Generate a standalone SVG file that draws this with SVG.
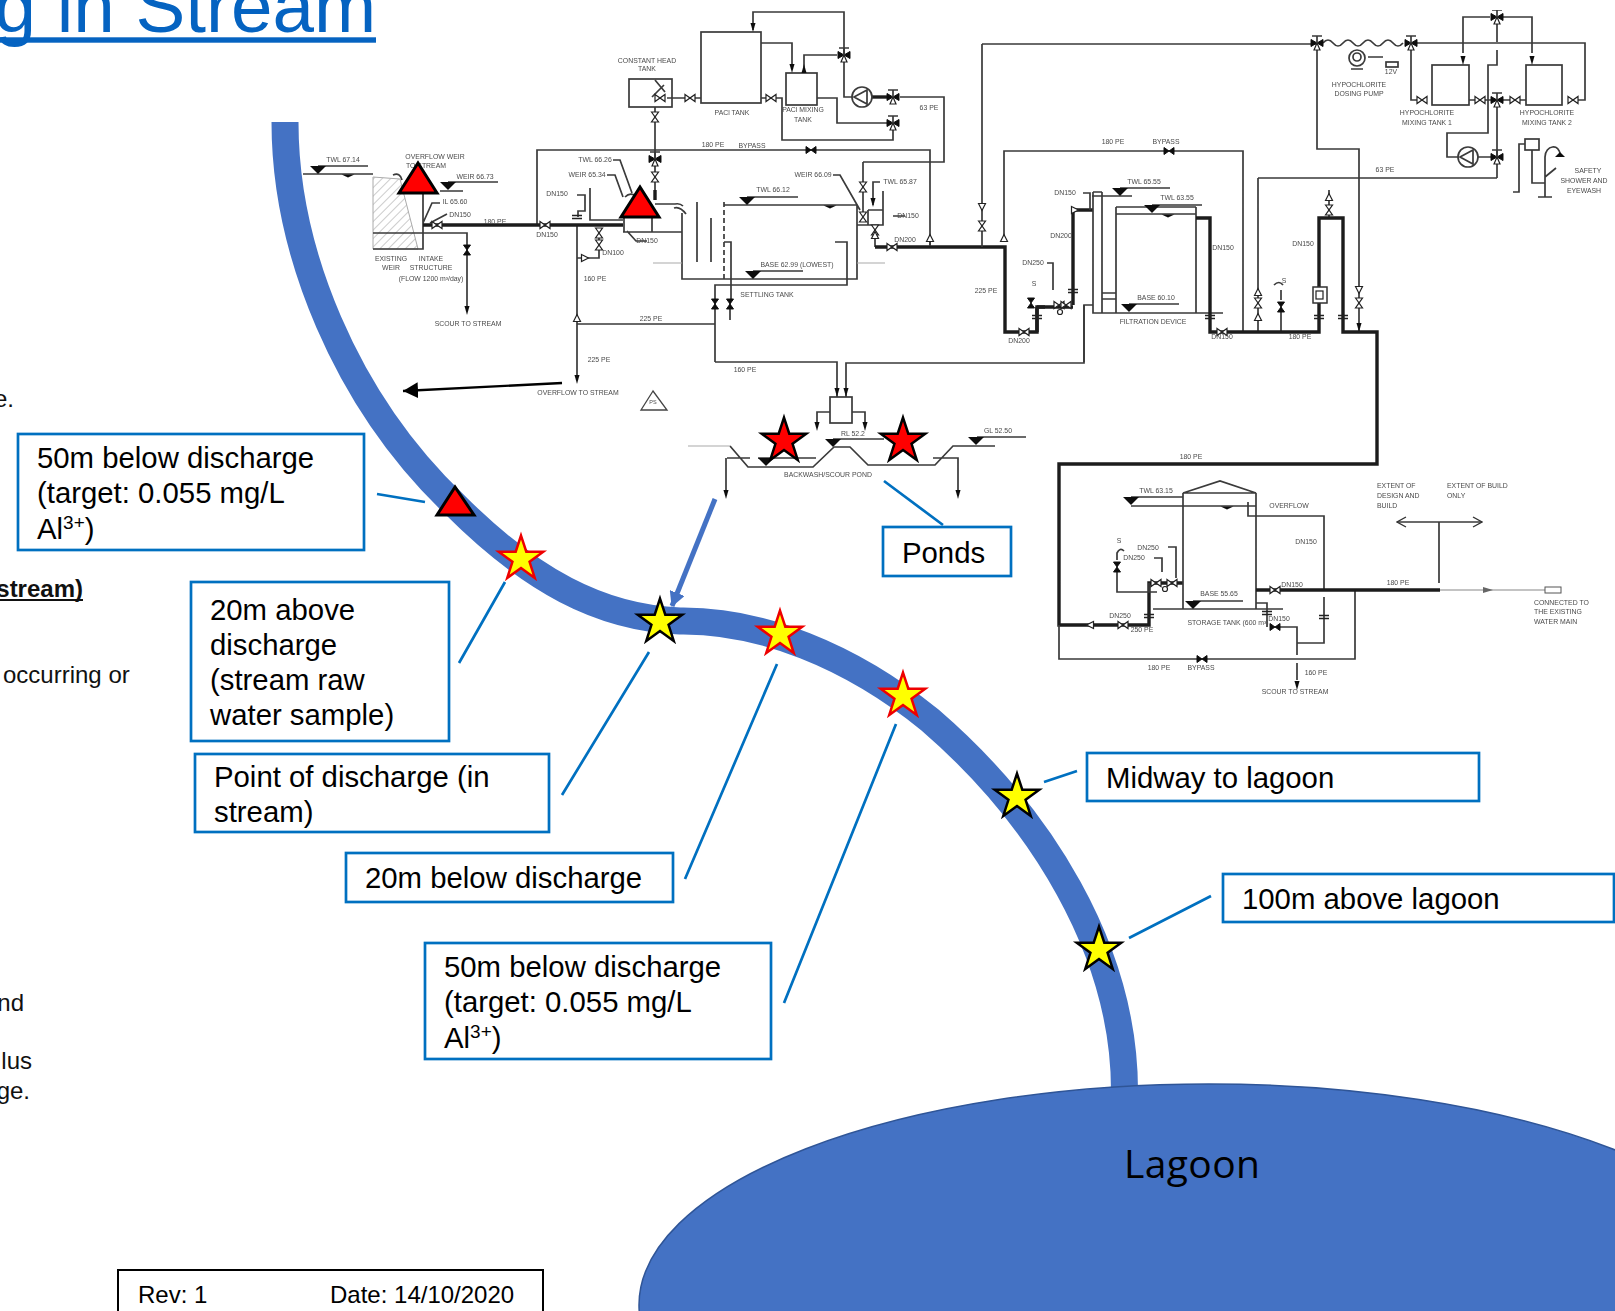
<svg xmlns="http://www.w3.org/2000/svg" width="1615" height="1311" viewBox="0 0 1615 1311">
<style>
.l{fill:none;stroke:#3a3a3a;stroke-width:1.7}
.t{fill:none;stroke:#1c1c1c;stroke-width:3.4}
.f{fill:none;stroke:#aaa;stroke-width:1.2}
.s{fill:#111;stroke:none}
.p text{font-family:"Liberation Sans",Arial,sans-serif;font-size:6.9px;fill:#4a4a4a;text-anchor:middle}
.p text.a{text-anchor:start}
.v{fill:#fff;stroke:#222;stroke-width:1.2}
.vs{fill:#111;stroke:#111;stroke-width:1}
.b{fill:#fff;stroke:#0070C0;stroke-width:2.7}
.bt{font-family:"Liberation Sans",Arial,sans-serif;font-size:29.33px;fill:#000}
.c{fill:none;stroke:#0070C0;stroke-width:2.7}
.side{font-family:"Liberation Sans",Arial,sans-serif;font-size:24px;fill:#111}
.tri{fill:#f00;stroke:#000;stroke-width:3;stroke-linejoin:miter}
.sy{fill:#ff0;stroke:#e00;stroke-width:2.5}
.sk{fill:#ff0;stroke:#000;stroke-width:2.5}
.sr{fill:#f00;stroke:#000;stroke-width:2.5}
</style>
<defs>
<filter id="soft" x="0" y="0" width="100%" height="100%"><feGaussianBlur stdDeviation="0.45"/></filter>
<pattern id="hatch" width="6" height="6" patternUnits="userSpaceOnUse" patternTransform="rotate(-45)"><line x1="0" y1="0" x2="6" y2="0" stroke="#999" stroke-width="1"/></pattern>
<polygon id="star" points="0,-23.4 5.29,-7.28 22.26,-7.23 8.56,2.78 13.75,18.93 0,9 -13.75,18.93 -8.56,2.78 -22.26,-7.23 -5.29,-7.28"/>
<polygon id="bh" class="v" points="-5,-3.5 5,3.5 5,-3.5 -5,3.5"/>
<polygon id="bv" class="v" points="-3.5,-5 3.5,5 -3.5,5 3.5,-5"/>
<polygon id="bhs" class="vs" points="-5,-3.5 5,3.5 5,-3.5 -5,3.5"/>
<polygon id="bvs" class="vs" points="-3.5,-5 3.5,5 -3.5,5 3.5,-5"/>
<polygon id="ck" class="v" points="-3.5,3.5 0,-3.5 3.5,3.5"/>
<polygon id="ckd" class="v" points="-3.5,-3.5 0,3.5 3.5,-3.5"/>
<g id="tw"><polygon class="vs" points="-6,-3.5 6,3.5 6,-3.5 -6,3.5"/><polygon class="v" points="-3,7 0,0 3,7"/><path d="M-5,-7H5M0,-7V0" class="l"/></g>
<polygon id="ah" class="s" points="-2.5,-9 2.5,-9 0,0"/>
<polygon id="at" class="s" points="-8,-4 8,-4 0,4"/>
<polygon id="ats" class="s" points="-6.5,-1.5 6.5,-1.5 0,1.5"/>
<path id="fl" d="M-5,-1.5H5M-5,1.5H5" fill="none" stroke="#222" stroke-width="1.4"/>
<marker id="open" viewBox="0 0 12 12" refX="11" refY="6" markerWidth="12" markerHeight="12" markerUnits="userSpaceOnUse" orient="auto-start-reverse"><path d="M2,1L11,6L2,11" fill="none" stroke="#333" stroke-width="1.4"/></marker>
<marker id="blackhead" viewBox="0 0 16 16" refX="15" refY="8" markerWidth="16" markerHeight="16" markerUnits="userSpaceOnUse" orient="auto"><path d="M0,0L15,8L0,16Z" fill="#000"/></marker>
<marker id="bluehead" viewBox="0 0 16 16" refX="14" refY="8" markerWidth="16" markerHeight="16" markerUnits="userSpaceOnUse" orient="auto"><path d="M0,0L15,8L0,16Z" fill="#4472C4"/></marker>
</defs>
<rect width="1615" height="1311" fill="#fff"/>
<g id="pid" class="p" filter="url(#soft)">
<g id="pid-intake">
<polygon points="373,177 400,179 418,249 373,249" fill="url(#hatch)" stroke="#aaa" stroke-width="1"/>
<path class="l" d="M318,166H368M303,174H373M448,182H498M440,191H463M423,193V249H373M373,233H467V310M423,223L432,203H440M430,223L447,214M537,225V150H930V246M577,225V380"/>
<path class="l" d="M393,175Q400,172 402,180" />
<path class="t" d="M423,225H623"/>
<use href="#at" x="318" y="170"/><use href="#ats" x="348" y="176"/><use href="#at" x="448" y="186"/>
<use href="#bh" x="437" y="225"/><use href="#bh" x="545" y="225"/><use href="#bvs" x="467" y="250"/>
<use href="#ah" x="467" y="315"/><use href="#ah" x="577" y="384"/><use href="#ck" x="577" y="318"/>
<text x="343" y="162">TWL 67.14</text><text x="435" y="159">OVERFLOW WEIR</text><text x="426" y="168">TO STREAM</text><text x="475" y="179">WEIR 66.73</text><text x="455" y="204">IL 65.60</text><text x="460" y="217">DN150</text><text x="495" y="224">180 PE</text><text x="547" y="237">DN150</text>
<text x="391" y="261">EXISTING</text><text x="391" y="270">WEIR</text><text x="431" y="261">INTAKE</text><text x="431" y="270">STRUCTURE</text><text x="431" y="281">(FLOW 1200 m³/day)</text><text x="468" y="326">SCOUR TO STREAM</text><text x="595" y="281">160 PE</text><text x="599" y="362">225 PE</text><text x="578" y="395">OVERFLOW TO STREAM</text>
<polygon points="653,391 641,410 667,410" fill="none" stroke="#444" stroke-width="1.3"/><text x="653" y="404" style="font-size:5.5px">PS</text>
</g>
<g id="pid-settling">
<path class="l" d="M577,195H585V211H578V217M590,188V220H623M623,232H682M624,217V232M652,217V232M599,228V258H587M577,258H581M577,324H715M613,160H620L632,193M607,175H615L623,197M625,197Q630,192 636,196M647,241H636L627,231M655,107V200M655,204H675Q680,203 683,206M674,208Q680,206 686,214M724,205H857V279H682V213M697,202V262M711,218V262M724,242H731V300M835,242H847V285H715V352M715,362V290M730,300V320M715,362H837V397M846,397V363H1084V305H1093M833,175H840L860,210M880,182H873V205M868,210V225H883V191M857,225H868M893,216L905,216M875,225V247M863,162V213"/>
<path class="l" stroke-dasharray="5 3" d="M724,202V279"/>
<path class="f" d="M653,263H682M857,263H885"/>
<path class="l" d="M747,197H798M753,271H803M868,210H883"/>
<path class="t" d="M655,190V200M875,247H1005V332H1037V307H1045M1073,305V210H1093"/>
<path class="l" d="M930,238V246M982,44V247"/>
<use href="#fl" x="577" y="217"/><use href="#bv" x="599" y="233"/><use href="#bv" x="599" y="245"/><use href="#ck" x="585" y="258" transform="rotate(90 585 258)"/>
<use href="#bv" x="655" y="117"/><use href="#tw" x="655" y="159"/><use href="#bv" x="655" y="177"/>
<use href="#at" x="747" y="201"/><use href="#ats" x="830" y="207"/><use href="#at" x="753" y="275"/>
<use href="#bvs" x="715" y="304"/><use href="#bvs" x="730" y="304"/>
<use href="#bv" x="863" y="187"/><use href="#bv" x="863" y="217"/><use href="#bv" x="875" y="230"/><use href="#ck" x="875" y="235"/><use href="#bh" x="892" y="247"/><use href="#ah" x="873" y="207"/>
<use href="#ck" x="930" y="238"/><use href="#bv" x="982" y="226"/><use href="#ckd" x="982" y="207"/><use href="#bhs" x="811" y="150"/>
<text x="557" y="196">DN150</text><text x="613" y="255">DN100</text><text x="647" y="243">DN150</text><text x="595" y="162">TWL 66.26</text><text x="587" y="177">WEIR 65.34</text><text x="651" y="321">225 PE</text>
<text x="773" y="192">TWL 66.12</text><text x="797" y="267">BASE 62.99 (LOWEST)</text><text x="767" y="297">SETTLING TANK</text><text x="813" y="177">WEIR 66.09</text><text x="900" y="184">TWL 65.87</text><text x="908" y="218">DN150</text><text x="905" y="242">DN200</text><text x="713" y="147">180 PE</text><text x="752" y="148">BYPASS</text><text x="986" y="293">225 PE</text><text x="745" y="372">160 PE</text>
</g>
<g id="pid-paci">
<rect class="l" x="629" y="79" width="43" height="28"/><rect class="l" x="701" y="32" width="60" height="71"/><rect class="l" x="786" y="73" width="31" height="32"/>
<path class="l" d="M667,98H701M761,43H792V64M753,30V12H844V97H852M804,73V55H837M761,98H782V140H893V128M817,98H837V123H887M900,97H944V162H863M655,80L665,92M652,97L664,85"/>
<path class="t" d="M872,97H887"/>
<circle class="l" cx="862" cy="97" r="10" style="fill:#fff"/><path class="l" d="M867,90L854,97L867,104Z"/>
<use href="#bh" x="660" y="98"/><use href="#bh" x="690" y="98"/><use href="#bh" x="771" y="98"/><use href="#tw" x="844" y="55"/><use href="#tw" x="893" y="97"/><use href="#tw" x="893" y="123"/>
<use href="#ah" x="753" y="32"/><use href="#ah" x="792" y="73"/><use href="#ah" x="804" y="64" transform="rotate(180 804 64)"/>
<text x="647" y="63">CONSTANT HEAD</text><text x="647" y="71">TANK</text><text x="732" y="115">PACl TANK</text><text x="803" y="112">PACl MIXING</text><text x="803" y="122">TANK</text><text x="929" y="110">63 PE</text>
</g>
<g id="pid-filter">
<path class="l" d="M982,44H1317M1004,237V151H1243V332M1093,192H1102M1093,192V313H1223M1102,192V313M1116,207V313M1196,207V313M1116,207H1196M1116,214H1196M1102,293H1116M1102,299H1116M1120,188H1170M1092,196H1132M1152,205H1202M1129,304H1179M1083,193H1090V210M1047,263H1053V290M1084,362V305M1258,178H1497M1258,178V332M1317,43V149H1359V332M1281,307V332M1281,290V300M1329,190V218"/>
<path class="t" d="M1037,307V332M1037,307H1073M1196,218H1210V332H1319V218H1343V332H1377V464H1059V625H1149V583H1183"/>
<use href="#ck" x="1004" y="238"/><use href="#bhs" x="1169" y="151"/><use href="#at" x="1120" y="192"/><use href="#at" x="1152" y="209"/><use href="#ats" x="1168" y="216"/><use href="#at" x="1129" y="308"/>
<use href="#bh" x="1024" y="332"/><use href="#bvs" x="1031" y="303"/><use href="#bh" x="1059" y="305"/><use href="#bh" x="1066" y="305"/><use href="#ck" x="1075" y="210" transform="rotate(90 1075 210)"/><circle class="v" cx="1060" cy="312" r="2.5"/><use href="#fl" x="1073" y="291"/><use href="#fl" x="1037" y="317"/>
<use href="#bh" x="1222" y="332"/><use href="#ck" x="1258" y="292"/><use href="#bv" x="1258" y="303"/><use href="#ck" x="1258" y="317"/><use href="#bvs" x="1281" y="307"/>
<use href="#fl" x="1210" y="317"/><use href="#fl" x="1319" y="317"/><use href="#fl" x="1343" y="317"/>
<rect x="1313" y="287" width="14" height="16" fill="#fff" stroke="#333" stroke-width="1.5"/><rect x="1316" y="291" width="7" height="8" fill="none" stroke="#222" stroke-width="1.2"/>
<use href="#ckd" x="1359" y="290"/><use href="#bv" x="1359" y="303"/><use href="#ah" x="1359" y="332"/><use href="#bv" x="1329" y="210"/><use href="#ck" x="1329" y="197"/>
<path class="l" d="M1274,285Q1279,280 1283,285"/>
<text x="1113" y="144">180 PE</text><text x="1166" y="144">BYPASS</text><text x="1144" y="184">TWL 65.55</text><text x="1177" y="200">TWL 63.55</text><text x="1156" y="300">BASE 60.10</text><text x="1153" y="324">FILTRATION DEVICE</text><text x="1065" y="195">DN150</text><text x="1061" y="238">DN200</text><text x="1033" y="265">DN250</text><text x="1034" y="286">S</text><text x="1019" y="343">DN200</text><text x="1223" y="250">DN150</text><text x="1222" y="339">DN150</text><text x="1300" y="339">180 PE</text><text x="1303" y="246">DN150</text><text x="1284" y="283">S</text>
</g>
<g id="pid-hypo">
<path class="l" d="M1323,43q5,-6 10,0t10,0t10,0t10,0t10,0t10,0t10,0t10,0M1417,43H1585V100H1578M1411,50V100H1417M1463,53V17H1490M1503,17H1532V53M1497,23V42M1497,50V65H1488V133H1447V157H1460M1469,100H1526M1497,100V178"/>
<rect class="l" x="1432" y="65" width="37" height="40"/><rect class="l" x="1526" y="65" width="36" height="40"/>
<circle cx="1357" cy="58" r="8" class="l"/><circle cx="1357" cy="57" r="4" class="l"/><path class="l" d="M1351,69H1363M1368,57H1383"/><rect class="l" x="1386" y="62" width="12" height="5"/>
<circle class="l" cx="1468" cy="157" r="10" style="fill:#fff"/><path class="l" d="M1473,150L1460,157L1473,164Z M1478,157H1492"/>
<use href="#tw" x="1317" y="43"/><use href="#tw" x="1411" y="43"/><use href="#tw" x="1497" y="17"/><use href="#tw" x="1497" y="100"/><use href="#tw" x="1497" y="157"/><use href="#bh" x="1422" y="100"/><use href="#bh" x="1480" y="100"/><use href="#bh" x="1515" y="100"/><use href="#bh" x="1573" y="100"/><use href="#ah" x="1463" y="65"/><use href="#ah" x="1532" y="65"/>
<rect class="l" x="1525" y="139" width="14" height="11"/><path class="l" d="M1525,144H1519V192H1513M1532,150V183H1545M1538,197H1552M1545,197V157C1545,145 1560,143 1560,155M1545,177L1556,168"/><polygon class="s" points="1555,157 1565,157 1560,152"/>
<text x="1359" y="87">HYPOCHLORITE</text><text x="1359" y="96">DOSING PUMP</text><text x="1391" y="74">12V</text><text x="1427" y="115">HYPOCHLORITE</text><text x="1427" y="125">MIXING TANK 1</text><text x="1547" y="115">HYPOCHLORITE</text><text x="1547" y="125">MIXING TANK 2</text><text x="1385" y="172">63 PE</text><text x="1588" y="173">SAFETY</text><text x="1584" y="183">SHOWER AND</text><text x="1584" y="193">EYEWASH</text>
</g>
<g id="pid-pond">
<path class="l" d="M730,446L748,467H813L834,447H850L868,465H935L953,446H995M727,458H750M726,458V490M758,458H816M933,458H958V490M833,439H884M977,437H1026M830,412H817V423M852,412H865V423"/>
<path class="f" d="M688,446H730"/>
<rect class="l" x="830" y="397" width="22" height="26"/>
<use href="#at" x="766" y="462"/><use href="#at" x="833" y="443"/><use href="#at" x="976" y="441"/><use href="#ah" x="726" y="499"/><use href="#ah" x="958" y="499"/><use href="#ah" x="817" y="431"/><use href="#ah" x="865" y="431"/><use href="#ah" x="837" y="397"/><use href="#ah" x="846" y="397"/>
<text x="853" y="436">RL 52.2</text><text x="998" y="433">GL 52.50</text><text x="828" y="477">BACKWASH/SCOUR POND</text>
</g>
<g id="pid-storage">
<path class="l" d="M1183,493V609M1256,493V609M1183,493L1220,481L1256,493ZM1131,497H1183M1131,506H1256M1248,502V516H1324V590M1439,522V583M1059,625V659H1355V590M1324,597V643H1297M1256,603H1267V627M1280,627H1297V655M1297,663V680M1193,601H1243M1117,570V592H1157M1168,547H1176V578M1154,558H1162V572M1149,583V592"/>
<path class="l" marker-start="url(#open)" marker-end="url(#open)" d="M1397,522H1482"/>
<path class="l" d="M1153,609H1283"/>
<path class="t" d="M1256,590H1440"/>
<path class="f" d="M1440,590H1545" style="stroke:#888"/>
<rect x="1545" y="587" width="16" height="6" fill="#fff" stroke="#555" stroke-width="1"/><polygon class="s" points="1483,587 1493,590 1483,593" style="fill:#666"/>
<use href="#at" x="1131" y="501"/><use href="#ats" x="1227" y="508"/><use href="#at" x="1193" y="605"/><use href="#bh" x="1275" y="590"/><use href="#bhs" x="1275" y="627"/><use href="#bhs" x="1202" y="659"/><use href="#bh" x="1123" y="625"/><use href="#ck" x="1090" y="625" transform="rotate(-90 1090 625)"/><use href="#bvs" x="1117" y="567"/><use href="#bh" x="1156" y="583"/><use href="#bh" x="1172" y="583"/><circle class="v" cx="1165" cy="589" r="2.5"/><use href="#ah" x="1297" y="690"/>
<use href="#fl" x="1149" y="616"/><use href="#fl" x="1324" y="617"/><use href="#fl" x="1267" y="613"/>
<path class="l" d="M1117,560V553Q1120,547 1124,551"/>
<text x="1156" y="493">TWL 63.15</text><text x="1289" y="508">OVERFLOW</text><text x="1306" y="544">DN150</text><text x="1292" y="587">DN150</text><text x="1398" y="585">180 PE</text><text x="1219" y="596">BASE 55.65</text><text x="1228" y="625">STORAGE TANK (600 m³)</text><text x="1279" y="621">DN150</text><text x="1120" y="618">DN250</text><text x="1142" y="632">250 PE</text><text x="1119" y="543">S</text><text x="1148" y="550">DN250</text><text x="1134" y="560">DN250</text><text x="1159" y="670">180 PE</text><text x="1201" y="670">BYPASS</text><text x="1316" y="675">160 PE</text><text x="1295" y="694">SCOUR TO STREAM</text><text x="1191" y="459">180 PE</text>
<text class="a" x="1377" y="488">EXTENT OF</text><text class="a" x="1377" y="498">DESIGN AND</text><text class="a" x="1377" y="508">BUILD</text><text class="a" x="1447" y="488">EXTENT OF BUILD</text><text class="a" x="1447" y="498">ONLY</text><text class="a" x="1534" y="605">CONNECTED TO</text><text class="a" x="1534" y="614">THE EXISTING</text><text class="a" x="1534" y="624">WATER MAIN</text>
</g>
</g>
<g id="title"><text x="-5.6" y="32" font-family="Liberation Sans, Arial, sans-serif" font-size="74.67" fill="#0563C1">g in Stream</text><rect x="0" y="37.3" width="376" height="5.4" fill="#0563C1"/></g>
<g id="side-text">
<text class="side" x="14" y="407" text-anchor="end">e.</text>
<text class="side" x="83" y="597" text-anchor="end" font-weight="bold">stream)</text><rect x="0" y="599" width="83" height="2" fill="#111"/>
<text class="side" x="3" y="683">occurring or</text>
<text class="side" x="24" y="1011" text-anchor="end">nd</text>
<text class="side" x="32" y="1069" text-anchor="end">lus</text>
<text class="side" x="30" y="1099" text-anchor="end">ge.</text>
</g>
<g id="stream"><path d="M285,122C285,250 345,400 455,505C530,580 600,618 680,621C760,620 850,655 930,720C1040,815 1125,950 1124.5,1092" fill="none" stroke="#4472C4" stroke-width="27"/></g>
<g id="lagoon"><ellipse cx="1209" cy="1305" rx="570" ry="221" fill="#4472C4" stroke="#2F5597" stroke-width="1.5"/><text x="1124" y="1178" textLength="136" font-family="Open Sans, sans-serif" font-size="39" fill="#000">Lagoon</text></g>
<g id="connectors">
<path class="c" d="M377,494L425,502M459,663L505,582M562,795L649,652M685,879L777,664M784,1003L896,724M1044,782L1077,771M1129,938L1211,896M884,481L943,525"/>
<path d="M562,383L403,391" fill="none" stroke="#000" stroke-width="2.4" marker-end="url(#blackhead)"/>
<path d="M715,499L672,606" fill="none" stroke="#4472C4" stroke-width="5" marker-end="url(#bluehead)"/>
</g>
<g id="box-50-upper"><rect class="b" x="18" y="434" width="346" height="116"/><text class="bt" x="37" y="468">50m below discharge</text><text class="bt" x="37" y="503">(target: 0.055 mg/L</text><text class="bt" x="37" y="539">Al<tspan dy="-10" font-size="19">3+</tspan><tspan dy="10">)</tspan></text></g>
<g id="box-20-above"><rect class="b" x="191" y="582" width="258" height="159"/><text class="bt" x="210" y="620">20m above</text><text class="bt" x="210" y="655">discharge</text><text class="bt" x="210" y="690">(stream raw</text><text class="bt" x="210" y="725">water sample)</text></g>
<g id="box-point"><rect class="b" x="195" y="754" width="354" height="78"/><text class="bt" x="214" y="787">Point of discharge (in</text><text class="bt" x="214" y="822">stream)</text></g>
<g id="box-20-below"><rect class="b" x="346" y="853" width="327" height="49"/><text class="bt" x="365" y="888">20m below discharge</text></g>
<g id="box-50-lower"><rect class="b" x="425" y="943" width="346" height="116"/><text class="bt" x="444" y="977">50m below discharge</text><text class="bt" x="444" y="1012">(target: 0.055 mg/L</text><text class="bt" x="444" y="1048">Al<tspan dy="-10" font-size="19">3+</tspan><tspan dy="10">)</tspan></text></g>
<g id="box-midway"><rect class="b" x="1087" y="753" width="392" height="48"/><text class="bt" x="1106" y="788">Midway to lagoon</text></g>
<g id="box-100"><rect class="b" x="1223" y="874" width="391" height="48"/><text class="bt" x="1242" y="909">100m above lagoon</text></g>
<g id="box-ponds"><rect class="b" x="883" y="527" width="128" height="49"/><text class="bt" x="902" y="563">Ponds</text></g>
<g id="box-rev"><rect x="118" y="1270" width="425" height="60" fill="#fff" stroke="#000" stroke-width="2"/><text x="138" y="1303" font-family="Liberation Sans, Arial, sans-serif" font-size="24">Rev: 1</text><text x="330" y="1303" font-family="Liberation Sans, Arial, sans-serif" font-size="24">Date: 14/10/2020</text></g>
<g id="marks">
<polygon class="tri" points="418,163 399,193 437,193"/>
<polygon class="tri" points="640,187 621,217 659,217"/>
<polygon class="tri" points="455,487 437,515 474,515"/>
<use href="#star" class="sr" x="784" y="441"/><use href="#star" class="sr" x="903" y="441"/>
<use href="#star" class="sy" x="521" y="559"/><use href="#star" class="sy" x="780" y="634"/><use href="#star" class="sy" x="903" y="696"/>
<use href="#star" class="sk" x="660" y="622"/><use href="#star" class="sk" x="1017" y="797"/><use href="#star" class="sk" x="1099" y="950"/>
</g>
</svg>
